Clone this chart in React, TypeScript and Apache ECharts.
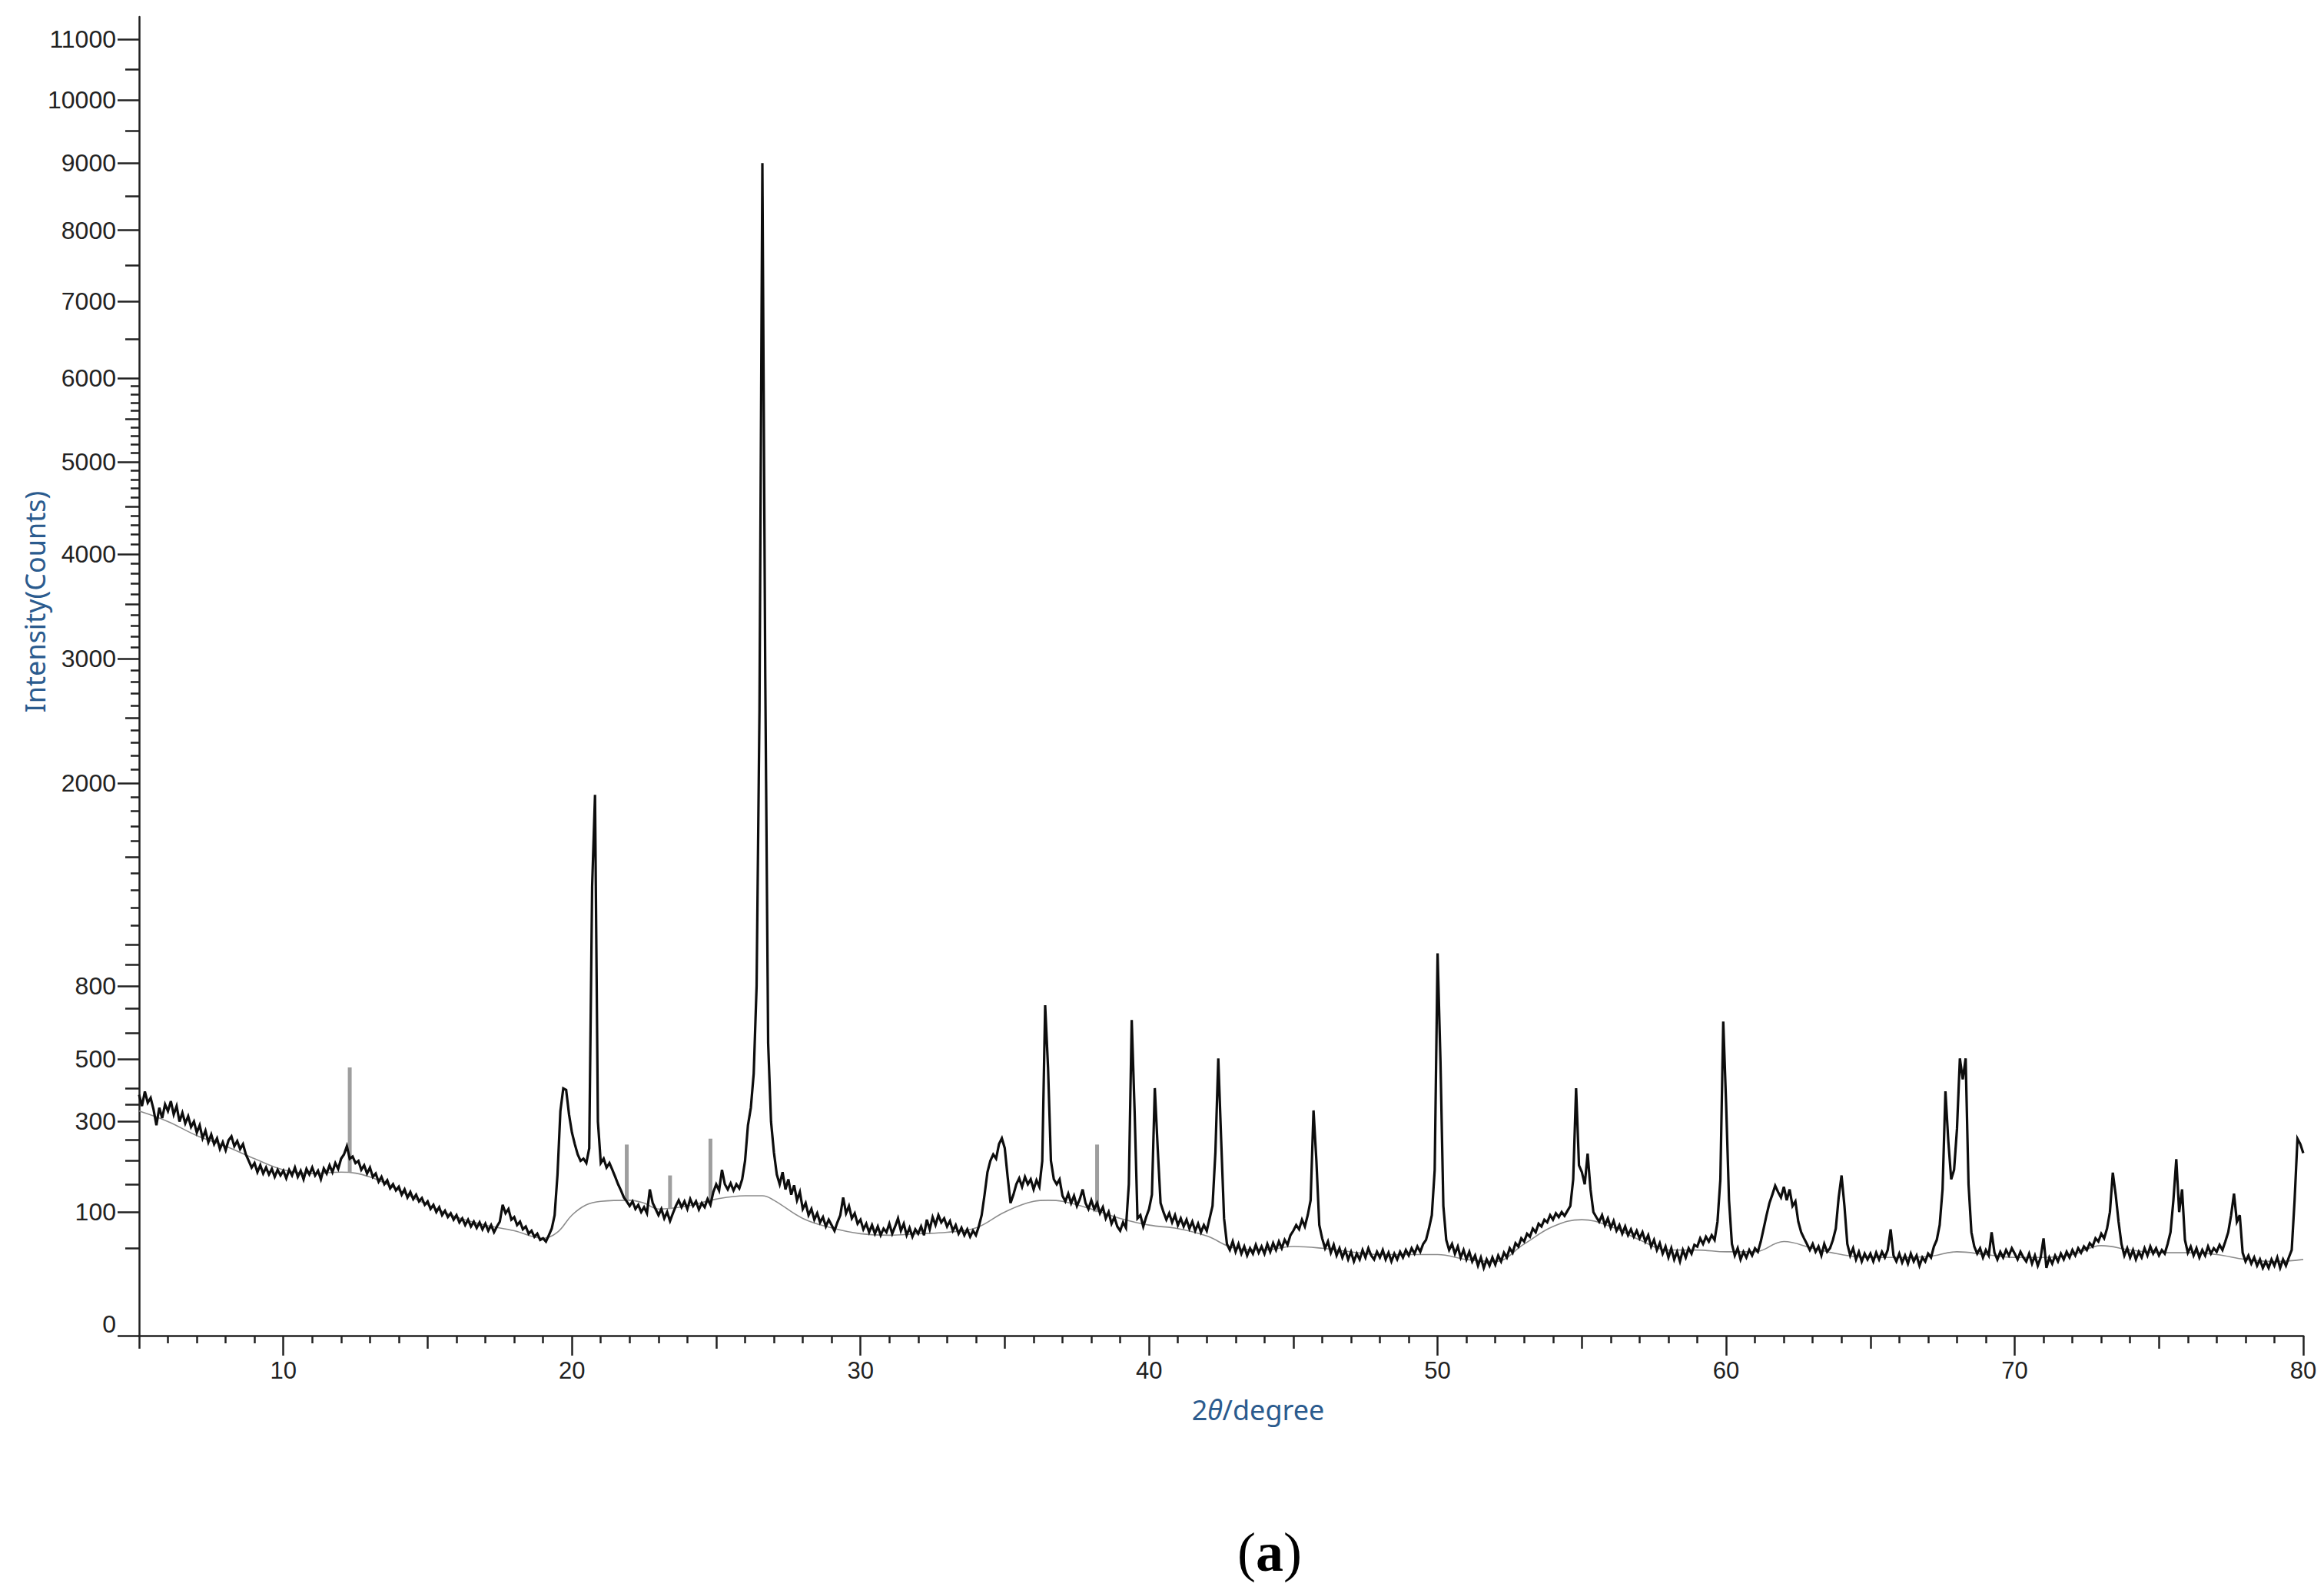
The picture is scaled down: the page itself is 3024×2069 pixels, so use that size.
import { useEffect, useRef } from "react";
import * as echarts from "echarts";

// ---- XRD trace: intensity (counts) every 0.1 deg, one array per 10 deg ----
const segStarts = [5, 15, 25, 35, 45, 55, 65, 75];
const i05 = [
  380, 345, 390, 355, 370, 335, 290, 340, 310, 350,
  330, 360, 320, 345, 300, 325, 295, 315, 285, 300,
  270, 290, 255, 275, 245, 265, 240, 255, 228, 245,
  225, 250, 260, 235, 248, 228, 240, 215, 200, 185,
  195, 175, 190, 172, 185, 170, 182, 165, 180, 168,
  178, 162, 180, 168, 185, 165, 178, 160, 182, 170,
  185, 168, 178, 160, 183, 172, 190, 175, 195, 182,
  205, 215, 235, 205, 210, 195, 200, 180, 190, 172,
  185, 165, 172, 155, 165, 150, 158, 142, 150, 138,
  145, 130, 140, 125, 135, 122, 130, 118, 124, 112,
];
const i15 = [
  118, 105, 112, 100, 108, 95, 102, 92, 98, 88,
  95, 84, 90, 80, 88, 78, 85, 76, 84, 74,
  82, 72, 80, 70, 78, 85, 112, 98, 105, 88,
  92, 80, 85, 74, 78, 68, 72, 64, 68, 60,
  62, 58, 66, 75, 95, 170, 330, 400, 395, 320,
  270, 240, 215, 200, 205, 195, 230, 1320, 1915, 300,
  195, 205, 185, 195, 180, 165, 150, 138, 125, 118,
  110, 118, 105, 112, 100, 108, 98, 140, 115, 105,
  95, 105, 90, 100, 86, 98, 110, 120, 108, 118,
  105, 122, 110, 118, 104, 115, 108, 122, 112, 135,
];
const i25 = [
  150, 138, 180, 150, 140, 152, 138, 150, 142, 160,
  200, 290, 340, 450, 800, 2570, 9000, 2850, 560, 300,
  220, 170, 150, 175, 140, 160, 130, 148, 120, 135,
  105, 115, 95, 105, 88, 98, 84, 92, 78, 88,
  80, 72, 84, 95, 125, 98, 110, 90, 98, 82,
  88, 74, 82, 70, 80, 68, 78, 66, 75, 70,
  82, 68, 78, 90, 72, 82, 66, 76, 64, 74,
  68, 78, 66, 88, 74, 92, 80, 95, 84, 90,
  78, 86, 72, 80, 68, 76, 66, 74, 64, 72,
  66, 78, 95, 130, 175, 200, 215, 205, 240, 255,
];
const i35 = [
  230, 165, 115, 130, 150, 162, 145, 165, 150, 160,
  140, 158, 145, 200, 715, 470, 200, 160, 150, 160,
  128, 118, 132, 115, 128, 110, 122, 140, 115, 105,
  120, 105, 115, 98, 108, 90, 100, 82, 92, 78,
  72, 84, 76, 150, 652, 330, 90, 95, 78, 92,
  105, 130, 401, 230, 115, 100, 88, 98, 84, 95,
  80, 90, 78, 88, 75, 85, 72, 82, 70, 80,
  72, 90, 110, 220, 503, 250, 90, 55, 48, 58,
  46, 55, 44, 52, 42, 50, 44, 54, 45, 52,
  44, 55, 46, 56, 48, 58, 50, 60, 54, 66,
];
const i45 = [
  72, 80, 74, 88, 78, 95, 120, 332, 200, 80,
  62, 50, 58, 45, 54, 42, 50, 40, 48, 38,
  46, 36, 44, 38, 48, 40, 50, 42, 38, 46,
  40, 48, 38, 45, 36, 44, 38, 46, 40, 48,
  42, 50, 44, 52, 46, 55, 60, 75, 95, 180,
  957, 492, 110, 60, 48, 55, 44, 52, 40, 48,
  38, 46, 36, 42, 32, 40, 30, 38, 32, 40,
  33, 42, 36, 45, 40, 50, 45, 56, 52, 62,
  58, 68, 64, 75, 70, 82, 78, 88, 84, 95,
  88, 98, 92, 100, 94, 102, 110, 160, 401, 190,
];
const i55 = [
  175, 150, 217, 140, 100, 92, 85, 95, 80, 90,
  76, 86, 72, 80, 68, 78, 66, 74, 64, 72,
  62, 70, 58, 66, 52, 60, 48, 56, 44, 52,
  40, 50, 38, 46, 36, 48, 40, 50, 44, 54,
  52, 62, 55, 64, 58, 66, 60, 85, 160, 646,
  350, 120, 55, 42, 50, 38, 46, 40, 48, 42,
  50, 46, 58, 75, 95, 115, 130, 147, 135, 125,
  145, 120, 140, 110, 118, 85, 70, 62, 55, 48,
  55, 46, 52, 42, 55, 46, 50, 60, 75, 125,
  168, 110, 55, 42, 50, 38, 46, 36, 44, 38,
];
const i65 = [
  44, 36, 45, 38, 46, 40, 48, 74, 42, 36,
  44, 35, 42, 34, 44, 36, 42, 32, 40, 36,
  44, 40, 52, 60, 80, 140, 391, 247, 160, 180,
  280, 503, 430, 503, 150, 70, 52, 44, 50, 40,
  48, 42, 70, 45, 38, 46, 40, 48, 42, 50,
  44, 38, 46, 40, 36, 44, 34, 42, 32, 40,
  62, 30, 40, 34, 42, 36, 44, 38, 46, 40,
  48, 42, 50, 45, 52, 48, 56, 52, 62, 58,
  68, 62, 75, 100, 174, 130, 85, 55, 42, 50,
  40, 48, 38, 46, 40, 50, 42, 52, 44, 50,
];
const i75 = [
  42, 48, 44, 55, 70, 120, 204, 100, 140, 60,
  45, 52, 42, 50, 40, 48, 42, 52, 44, 50,
  46, 54, 48, 58, 70, 95, 132, 85, 95, 45,
  36, 42, 34, 40, 32, 38, 30, 36, 30, 38,
  32, 40, 30, 38, 32, 40, 48, 120, 254, 240,
  218,
];
const segments = [i05, i15, i25, i35, i45, i55, i65, i75];
const STEP = 0.1;

// ---- fitted background curve ----
const bgX = [5, 6, 7, 8, 9, 10, 11, 12, 13, 14, 15, 16, 17, 18, 19, 19.5, 20, 20.5, 21, 22, 22.5, 23, 24, 25, 26, 26.6,
  27, 28, 29, 30, 31, 32, 33, 34, 35, 36, 36.5, 37, 38, 39, 40, 41, 42, 43, 44, 45, 46, 47, 48, 49, 50, 51, 52, 53, 54,
  55, 56, 57, 58, 59, 60, 61, 62, 63, 64, 65, 66, 67, 68, 69, 70, 71, 72, 73, 74, 75, 76, 77, 78, 79, 80];
const bgY = [330, 300, 262, 235, 205, 180, 172, 175, 165, 138, 112, 92, 80, 72, 62, 70, 95, 112, 118, 120, 115, 105, 110, 122, 128, 128,
  120, 90, 76, 68, 66, 68, 70, 76, 100, 118, 120, 118, 105, 90, 80, 75, 65, 50, 48, 52, 50, 46, 43, 43, 43, 38, 36, 55, 78,
  88, 78, 60, 48, 48, 46, 46, 58, 50, 43, 40, 40, 41, 46, 43, 40, 40, 43, 53, 48, 45, 45, 43, 38, 36, 38];

// ---- reference pattern sticks ----
const stickX = [12.3, 21.9, 23.4, 24.8, 38.2];
const stickBase = [175, 120, 105, 118, 100];
const stickTop = [471, 239, 168, 254, 239];

// ---- axis ticks ----
const xMajor = [10, 20, 30, 40, 50, 60, 70, 80];
const xMid = [5, 15, 25, 35, 45, 55, 65, 75];
const xSmall = [6, 7, 8, 9, 11, 12, 13, 14, 16, 17, 18, 19, 21, 22, 23, 24, 26, 27, 28, 29, 31, 32, 33, 34, 36, 37, 38, 39,
  41, 42, 43, 44, 46, 47, 48, 49, 51, 52, 53, 54, 56, 57, 58, 59, 61, 62, 63, 64, 66, 67, 68, 69, 71, 72, 73, 74, 76, 77, 78, 79];
const yMajor = [0, 100, 300, 500, 800, 2000, 3000, 4000, 5000, 6000, 7000, 8000, 9000, 10000, 11000];
const yMid = [50, 150, 200, 250, 350, 400, 600, 700, 900, 1000, 1500, 2500, 3500, 4500, 5500, 6500, 7500, 8500, 9500, 10500];
const ySmall = [1100, 1200, 1300, 1400, 1600, 1700, 1800, 1900, 2100, 2200, 2300, 2400, 2600, 2700, 2800, 2900,
  3100, 3200, 3300, 3400, 3600, 3700, 3800, 3900, 4100, 4200, 4300, 4400, 4600, 4700, 4800, 4900,
  5100, 5200, 5300, 5400, 5600, 5700, 5800, 5900];
const Y_MAX_COUNTS = 11385;

const sq = (v: number) => Math.sqrt(v);

export default function App() {
  const ref = useRef<HTMLDivElement>(null);

  useEffect(() => {
    if (!ref.current) return;
    const chart = echarts.init(ref.current, null, { renderer: "svg" });

    const trace: number[][] = [];
    segments.forEach((seg, k) => {
      seg.forEach((v, i) => {
        trace.push([+(segStarts[k] + i * STEP).toFixed(2), sq(v)]);
      });
    });
    const bg = bgX.map((x, i) => [x, sq(bgY[i])]);
    const sticks = stickX.map((x, i) => [x, sq(stickBase[i]), sq(stickTop[i])]);

    const axisColor = "#222222";
    const labelFont = "'Liberation Sans', Arial, sans-serif";
    const titleFont = "'Noto Sans', 'Liberation Sans', sans-serif";
    const titleColor = "#2b5b8e";

    const xBase = { type: "value", min: 5, max: 80, gridIndex: 0, position: "bottom", splitLine: { show: false } };
    const yBase = { type: "value", min: 0, max: sq(Y_MAX_COUNTS), gridIndex: 0, position: "left", splitLine: { show: false } };
    const tickLine = { color: axisColor, width: 2.5 };

    const option: any = {
      animation: false,
      backgroundColor: "#ffffff",
      grid: { left: 181, right: 27, top: 22, bottom: 331, containLabel: false, outerBoundsMode: "none" },
      xAxis: [
        {
          ...xBase,
          axisLine: { show: true, onZero: false, lineStyle: { color: axisColor, width: 2.5 } },
          axisTick: { show: true, customValues: xMajor, length: 26, lineStyle: tickLine },
          axisLabel: { show: true, customValues: xMajor, fontSize: 31, color: "#222", margin: 30, fontFamily: labelFont },
        },
        {
          ...xBase,
          axisLine: { show: false },
          axisTick: { show: true, customValues: xMid, length: 17, lineStyle: tickLine },
          axisLabel: { show: false },
        },
        {
          ...xBase,
          axisLine: { show: false },
          axisTick: { show: true, customValues: xSmall, length: 10, lineStyle: tickLine },
          axisLabel: { show: false },
        },
      ],
      yAxis: [
        {
          ...yBase,
          axisLine: { show: true, onZero: false, lineStyle: { color: axisColor, width: 2.5 } },
          axisTick: { show: true, customValues: yMajor.map(sq), length: 28, lineStyle: tickLine },
          axisLabel: {
            show: true,
            customValues: yMajor.map(sq),
            fontSize: 32,
            color: "#222",
            margin: 30,
            fontFamily: labelFont,
            formatter: (v: number) => {
              const n = Math.round(v * v);
              return n === 0 ? "{z|0}" : String(n);
            },
            rich: { z: { fontSize: 32, color: "#222", fontFamily: labelFont, padding: [0, 0, 30, 0] } },
          },
        },
        {
          ...yBase,
          axisLine: { show: false },
          axisTick: { show: true, customValues: yMid.map(sq), length: 18, lineStyle: tickLine },
          axisLabel: { show: false },
        },
        {
          ...yBase,
          axisLine: { show: false },
          axisTick: { show: true, customValues: ySmall.map(sq), length: 11, lineStyle: tickLine },
          axisLabel: { show: false },
        },
      ],
      series: [
        {
          name: "background",
          type: "line",
          xAxisIndex: 0,
          yAxisIndex: 0,
          data: bg,
          smooth: 0.4,
          symbol: "none",
          silent: true,
          lineStyle: { color: "#8c8c8c", width: 1.6 },
          z: 1,
        },
        {
          name: "reference",
          type: "custom",
          xAxisIndex: 0,
          yAxisIndex: 0,
          data: sticks,
          encode: { x: 0, y: [1, 2] },
          silent: true,
          z: 2,
          renderItem: (_params: any, api: any) => {
            const p0 = api.coord([api.value(0), api.value(1)]);
            const p1 = api.coord([api.value(0), api.value(2)]);
            return {
              type: "line",
              shape: { x1: p0[0], y1: p0[1], x2: p1[0], y2: p1[1] },
              style: { stroke: "#9e9e9e", lineWidth: 5 },
            };
          },
        },
        {
          name: "pattern",
          type: "line",
          xAxisIndex: 0,
          yAxisIndex: 0,
          data: trace,
          symbol: "none",
          silent: true,
          lineStyle: { color: "#0d0d0d", width: 3.2, join: "miter", miterLimit: 4 },
          z: 3,
        },
      ],
      graphic: {
        elements: [
          {
            type: "text",
            x: 45,
            y: 783,
            rotation: Math.PI / 2,
            silent: true,
            style: {
              text: "Intensity(Counts)",
              font: `36px ${titleFont}`,
              fill: titleColor,
              align: "center",
              verticalAlign: "middle",
              textAlign: "center",
              textVerticalAlign: "middle",
            },
          },
          {
            type: "text",
            x: 1637,
            y: 1834,
            silent: true,
            style: {
              text: "{n|2}{i|θ}{n|/degree}",
              fill: titleColor,
              font: `36px ${titleFont}`,
              align: "center",
              verticalAlign: "middle",
              textAlign: "center",
              textVerticalAlign: "middle",
              rich: {
                n: { fontSize: 36, fontFamily: titleFont, fill: titleColor, color: titleColor },
                i: { fontSize: 36, fontFamily: titleFont, fontStyle: "italic", fill: titleColor, color: titleColor },
              },
            },
          },
          {
            type: "text",
            x: 1652,
            y: 2020,
            silent: true,
            style: {
              text: "{p|(}{b|a}{p|)}",
              fill: "#000",
              font: "72px 'Liberation Serif', serif",
              align: "center",
              verticalAlign: "middle",
              textAlign: "center",
              textVerticalAlign: "middle",
              rich: {
                p: { fontSize: 72, fontFamily: "'Liberation Serif', serif", fill: "#000", color: "#000" },
                b: { fontSize: 72, fontFamily: "'Liberation Serif', serif", fontWeight: "bold", fill: "#000", color: "#000" },
              },
            },
          },
        ],
      },
    };

    chart.setOption(option);
    return () => chart.dispose();
  }, []);

  return (
    <div
      ref={ref}
      style={{ position: "absolute", left: 0, top: 0, width: 3024, height: 2069, background: "#fff" }}
    />
  );
}
